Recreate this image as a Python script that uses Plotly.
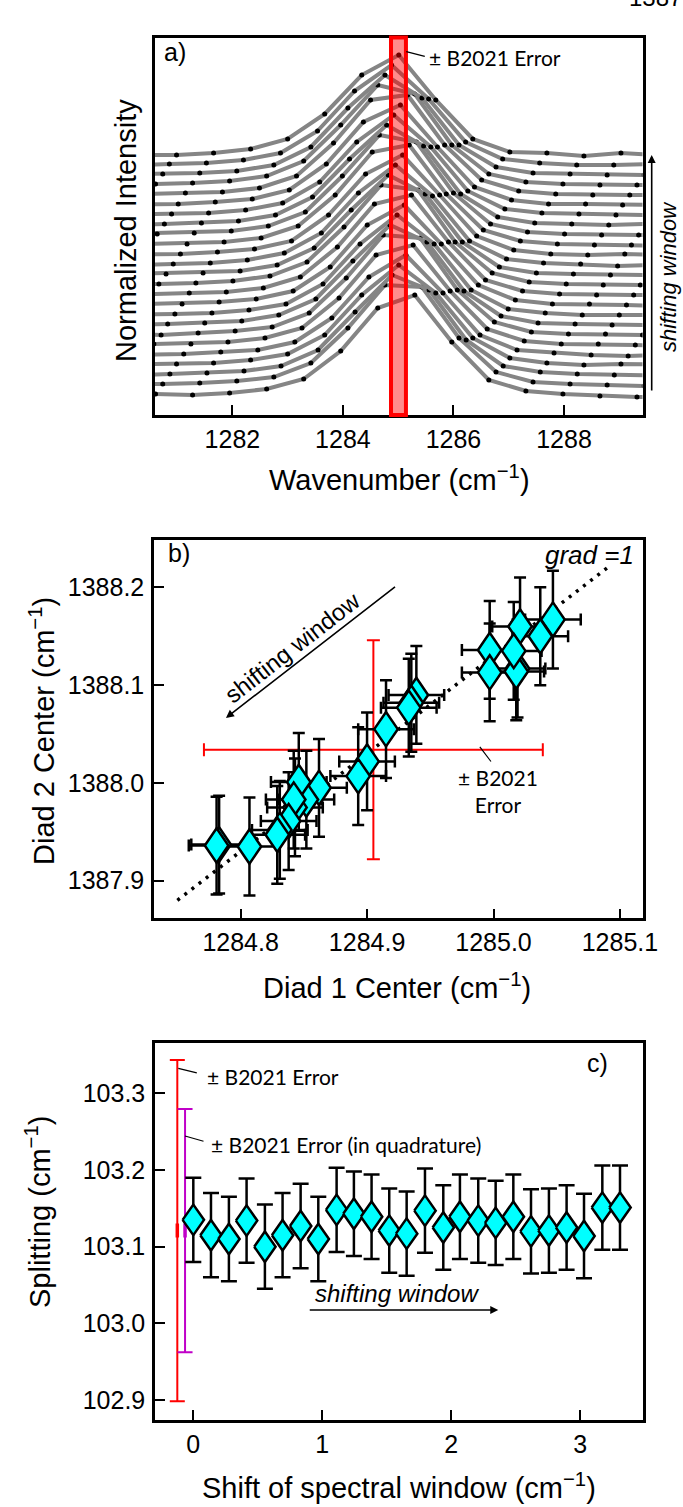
import plotly.graph_objects as go

W, H = 683, 1507
FONT = "Liberation Sans, Arial, sans-serif"
LABEL_FONT = "Lato, Carlito, sans-serif"

# ---------------- a) stacked, normalized spectra of the 1285 cm-1 diad ----------------
SPECTRUM_STEP = 0.67          # cm-1 between detector channels
OFFSET_STEP = 0.1             # vertical offset between successive windows
# first channel position of each window (bottom = unshifted, top = largest shift)
SPECTRUM_X0 = [1279.94, 1279.40, 1279.53, 1279.65, 1279.78, 1279.91, 1279.37, 1279.49,
               1279.62, 1279.75, 1279.88, 1279.33, 1279.46, 1279.59, 1279.72, 1279.84,
               1279.30, 1279.43, 1279.56, 1279.68, 1279.81, 1279.27, 1279.40, 1279.52,
               1279.65]
SPECTRA = [
    [0.00, 0.01, 0.00, 0.02, 0.06, 0.16, 0.44, 0.87, 1.00, 0.53, 0.15, 0.04, 0.01, -0.01, -0.02, -0.02, -0.02],
    [0.00, 0.00, 0.01, 0.02, 0.04, 0.08, 0.22, 0.57, 1.00, 0.98, 0.47, 0.13, 0.03, 0.01, 0.00, -0.01, 0.00],
    [0.01, 0.00, 0.01, 0.02, 0.04, 0.09, 0.25, 0.63, 1.00, 0.85, 0.35, 0.09, 0.03, 0.01, 0.00, 0.00, -0.01],
    [0.00, 0.01, 0.01, 0.02, 0.05, 0.11, 0.30, 0.70, 1.00, 0.72, 0.27, 0.07, 0.02, 0.00, 0.01, 0.00, 0.00],
    [0.00, 0.00, 0.01, 0.03, 0.05, 0.13, 0.37, 0.78, 1.00, 0.62, 0.20, 0.05, 0.02, 0.00, -0.01, 0.00, 0.01],
    [0.00, 0.01, 0.01, 0.03, 0.07, 0.17, 0.47, 0.90, 1.00, 0.54, 0.16, 0.04, 0.01, 0.01, 0.00, -0.01, 0.00],
    [0.00, 0.01, 0.00, 0.02, 0.04, 0.08, 0.22, 0.57, 1.00, 0.97, 0.45, 0.13, 0.03, 0.01, 0.01, 0.00, -0.01],
    [0.01, 0.00, 0.01, 0.02, 0.04, 0.10, 0.26, 0.64, 1.00, 0.83, 0.34, 0.09, 0.02, 0.01, 0.00, 0.00, 0.00],
    [0.00, 0.00, 0.01, 0.02, 0.05, 0.11, 0.31, 0.71, 1.00, 0.71, 0.25, 0.06, 0.02, 0.00, 0.00, 0.01, 0.00],
    [0.00, 0.01, 0.01, 0.03, 0.06, 0.14, 0.38, 0.80, 1.00, 0.61, 0.20, 0.05, 0.01, 0.01, 0.00, -0.01, 0.00],
    [0.00, 0.01, 0.02, 0.03, 0.07, 0.18, 0.48, 0.91, 1.00, 0.53, 0.15, 0.04, 0.01, 0.00, 0.00, 0.00, -0.01],
    [0.00, 0.00, 0.01, 0.02, 0.04, 0.09, 0.23, 0.58, 1.00, 0.95, 0.43, 0.12, 0.03, 0.01, 0.00, 0.00, 0.01],
    [0.00, 0.01, 0.01, 0.02, 0.04, 0.10, 0.27, 0.65, 1.00, 0.81, 0.33, 0.08, 0.02, 0.01, 0.00, 0.00, 0.00],
    [0.01, 0.00, 0.01, 0.02, 0.05, 0.12, 0.32, 0.72, 1.00, 0.69, 0.24, 0.06, 0.02, 0.01, -0.01, 0.00, 0.00],
    [0.00, 0.00, 0.01, 0.03, 0.06, 0.14, 0.40, 0.81, 1.00, 0.60, 0.19, 0.05, 0.01, 0.00, 0.01, 0.00, 0.00],
    [0.00, 0.01, 0.01, 0.03, 0.07, 0.19, 0.50, 0.93, 1.00, 0.51, 0.15, 0.04, 0.01, 0.00, 0.00, -0.01, 0.00],
    [0.00, 0.01, 0.01, 0.02, 0.04, 0.09, 0.23, 0.59, 1.00, 0.93, 0.42, 0.11, 0.03, 0.01, 0.00, 0.00, 0.00],
    [0.01, 0.00, 0.01, 0.02, 0.04, 0.10, 0.28, 0.66, 1.00, 0.79, 0.31, 0.08, 0.02, 0.01, 0.00, 0.01, 0.00],
    [0.00, 0.01, 0.01, 0.02, 0.05, 0.12, 0.33, 0.73, 1.00, 0.68, 0.24, 0.06, 0.02, 0.01, 0.00, 0.00, -0.01],
    [0.00, 0.00, 0.01, 0.03, 0.06, 0.15, 0.41, 0.83, 1.00, 0.58, 0.18, 0.05, 0.01, 0.01, 0.00, 0.00, 0.01],
    [0.00, 0.01, 0.02, 0.03, 0.07, 0.19, 0.52, 0.95, 1.00, 0.50, 0.15, 0.04, 0.01, 0.00, 0.00, 0.00, 0.00],
    [0.00, 0.00, 0.01, 0.02, 0.04, 0.09, 0.24, 0.60, 1.00, 0.91, 0.40, 0.11, 0.03, 0.01, 0.00, 0.00, 0.00],
    [0.00, 0.01, 0.01, 0.02, 0.04, 0.10, 0.28, 0.67, 1.00, 0.77, 0.30, 0.08, 0.02, 0.01, 0.00, 0.00, 0.00],
    [0.01, 0.00, 0.01, 0.02, 0.05, 0.12, 0.34, 0.74, 1.00, 0.66, 0.23, 0.06, 0.02, 0.00, 0.00, 0.01, 0.00],
    [0.00, 0.00, 0.00, 0.02, 0.06, 0.16, 0.41, 0.80, 1.00, 0.55, 0.16, 0.03, 0.02, -0.01, 0.02, 0.00, 0.00],
]
B2021_BAND = [1284.87, 1285.14]     # +/- B2021 error on diad 1 position
A_TICKS = [1282, 1284, 1286, 1288]

# ---------------- b) diad 1 vs diad 2 fitted centres ----------------
DIAD1 = [1285.047, 1285.037, 1285.021, 1285.019, 1285.018, 1285.016, 1284.997, 1284.997,
         1284.939, 1284.935, 1284.933, 1284.915, 1284.900, 1284.893, 1284.862, 1284.852,
         1284.846, 1284.843, 1284.842, 1284.838, 1284.831, 1284.829, 1284.807, 1284.783,
         1284.781]
DIAD2 = [1388.167, 1388.150, 1388.160, 1388.117, 1388.114, 1388.135, 1388.136, 1388.113,
         1388.090, 1388.082, 1388.077, 1388.055, 1388.022, 1388.007, 1387.995, 1387.983,
         1388.001, 1387.975, 1387.983, 1387.961, 1387.952, 1387.947, 1387.935, 1387.937,
         1387.936]
DIAD1_ERR = 0.022
DIAD2_ERR = 0.05
B2021_D1, B2021_D1_ERR = 1284.905, 0.134
B2021_D2, B2021_D2_ERR = 1388.034, 0.112
GRAD = 1.0
GRAD_INTERCEPT = 103.13
GRAD_X = [1284.75, 1285.093]
B_XTICKS = [1284.8, 1284.9, 1285.0, 1285.1]
B_YTICKS = [1387.9, 1388.0, 1388.1, 1388.2]

# ---------------- c) splitting vs window shift ----------------
SHIFT = [0.000, 0.137, 0.276, 0.413, 0.555, 0.692, 0.832, 0.969, 1.111, 1.245, 1.382, 1.519,
         1.654, 1.796, 1.938, 2.067, 2.209, 2.344, 2.481, 2.618, 2.757, 2.894, 3.029, 3.171,
         3.308]
SPLIT = [103.135, 103.115, 103.110, 103.134, 103.100, 103.115, 103.127, 103.110, 103.148,
         103.143, 103.139, 103.121, 103.117, 103.147, 103.125, 103.139, 103.134, 103.131,
         103.139, 103.120, 103.121, 103.125, 103.114, 103.151, 103.151]
SPLIT_ERR = 0.055
B2021_SPLIT = 103.121
B2021_SPLIT_ERR = 0.2225        # straight sum
B2021_SPLIT_QERR = 0.1585       # in quadrature
B2021_SPLIT_X = -0.124
B2021_SPLIT_QX = -0.064
C_XTICKS = [0, 1, 2, 3]
C_YTICKS = [102.9, 103.0, 103.1, 103.2, 103.3]

# diamond marker half-extents (in axis units) for panels b and c
B_DIAMOND = (0.0093, 0.0176)
C_DIAMOND = (0.083, 0.0199)
CYAN = "#00ffff"


def px(p):
    return p / W


def py(p):
    return 1 - p / H


fig = go.Figure()

# a) spectra
for i, (x0, vals) in enumerate(zip(SPECTRUM_X0, SPECTRA)):
    xs = [x0 + k * SPECTRUM_STEP for k in range(len(vals))]
    ys = [v + i * OFFSET_STEP for v in vals]
    fig.add_trace(go.Scatter(
        x=xs, y=ys, mode="lines+markers", xaxis="x", yaxis="y",
        line=dict(color="#858585", width=4),
        marker=dict(color="black", size=5),
        showlegend=False, hoverinfo="skip"))


def add_diamonds(xs, ys, half, xa, ya):
    """Tall cyan diamonds centred on each data point."""
    dx, dy = half
    for x, y in zip(xs, ys):
        fig.add_trace(go.Scatter(
            x=[x - dx, x, x + dx, x, x - dx], y=[y, y + dy, y, y - dy, y],
            mode="lines", fill="toself", fillcolor=CYAN,
            line=dict(color="black", width=2.5), xaxis=xa, yaxis=ya,
            showlegend=False, hoverinfo="skip"))


# b) slope-1 guide line
fig.add_trace(go.Scatter(
    x=GRAD_X, y=[GRAD * x + GRAD_INTERCEPT for x in GRAD_X], mode="lines",
    xaxis="x2", yaxis="y2", line=dict(color="black", width=3.5, dash="3px,6px"),
    showlegend=False, hoverinfo="skip"))

# b) B2021 error cross
fig.add_trace(go.Scatter(
    x=[B2021_D1], y=[B2021_D2], mode="markers", xaxis="x2", yaxis="y2",
    marker=dict(size=1, color="rgba(0,0,0,0)"),
    error_x=dict(type="data", array=[B2021_D1_ERR], color="#ff0000", thickness=2, width=6.5),
    error_y=dict(type="data", array=[B2021_D2_ERR], color="#ff0000", thickness=2, width=6.5),
    showlegend=False, hoverinfo="skip"))

# b) fitted centres: error bars, then diamonds
fig.add_trace(go.Scatter(
    x=DIAD1, y=DIAD2, mode="markers", xaxis="x2", yaxis="y2",
    marker=dict(size=1, color="rgba(0,0,0,0)"),
    error_x=dict(type="constant", value=DIAD1_ERR, color="black", thickness=2.5, width=6),
    error_y=dict(type="constant", value=DIAD2_ERR, color="black", thickness=2.5, width=6),
    showlegend=False, hoverinfo="skip"))
add_diamonds(DIAD1, DIAD2, B_DIAMOND, "x2", "y2")

# c) B2021 error bars
fig.add_trace(go.Scatter(
    x=[B2021_SPLIT_X], y=[B2021_SPLIT], mode="markers", xaxis="x3", yaxis="y3",
    marker=dict(symbol="line-ns", size=10, line=dict(color="#ff0000", width=3.5)),
    error_y=dict(type="data", array=[B2021_SPLIT_ERR], color="#ff0000", thickness=2, width=7.5),
    showlegend=False, hoverinfo="skip"))
fig.add_trace(go.Scatter(
    x=[B2021_SPLIT_QX], y=[B2021_SPLIT], mode="markers", xaxis="x3", yaxis="y3",
    marker=dict(symbol="line-ns", size=10, line=dict(color="#c000c8", width=3.5)),
    error_y=dict(type="data", array=[B2021_SPLIT_QERR], color="#c000c8", thickness=2, width=7.5),
    showlegend=False, hoverinfo="skip"))

# c) splitting: error bars, then diamonds
fig.add_trace(go.Scatter(
    x=SHIFT, y=SPLIT, mode="markers", xaxis="x3", yaxis="y3",
    marker=dict(size=1, color="rgba(0,0,0,0)"),
    error_y=dict(type="constant", value=SPLIT_ERR, color="black", thickness=2.5, width=8),
    showlegend=False, hoverinfo="skip"))
add_diamonds(SHIFT, SPLIT, C_DIAMOND, "x3", "y3")


def axis(domain, rng, anchor, tickvals=None, fmt=None, labels=True, ticks="inside", standoff=0):
    d = dict(domain=domain, range=rng, anchor=anchor, showline=True, linecolor="black",
             linewidth=2.5, mirror=True, showgrid=False, zeroline=False, automargin=False,
             ticks=ticks, ticklen=10, tickwidth=2, tickcolor="black",
             showticklabels=labels, ticklabelstandoff=standoff,
             tickfont=dict(family=FONT, size=25, color="black"))
    if tickvals is not None:
        d["tickvals"] = tickvals
    if fmt:
        d["tickformat"] = fmt
    return d


fig.update_layout(
    template="none",
    width=W, height=H, autosize=False,
    margin=dict(l=0, r=0, t=0, b=0, pad=0, autoexpand=False),
    paper_bgcolor="white", plot_bgcolor="white", showlegend=False,
    xaxis=axis([px(155), px(642.5)], [1280.6, 1289.42], "y", A_TICKS, standoff=0),
    yaxis=axis([py(415), py(37.5)], [-0.2, 3.575], "x", labels=False, ticks=""),
    xaxis2=axis([px(154), px(642.7)], [1284.7315, 1285.118], "y2", B_XTICKS, ".1f", standoff=0),
    yaxis2=axis([py(918.3), py(540)], [1387.8616, 1388.2484], "x2", B_YTICKS, ".1f", standoff=2),
    xaxis3=axis([px(155), px(642.7)], [-0.297, 3.484], "y3", C_XTICKS, "d", standoff=0),
    yaxis3=axis([py(1420), py(1042.7)], [102.874, 103.366], "x3", C_YTICKS, ".1f", standoff=2),
)

# B2021 band on the spectra
fig.add_shape(type="rect", xref="x", yref="y domain", x0=B2021_BAND[0], x1=B2021_BAND[1],
              y0=0, y1=1, fillcolor="rgba(255,0,0,0.45)", line=dict(color="#ff0000", width=4),
              layer="above")

ann = []


def text(x, y, s, xref="paper", yref="paper", size=25, family=FONT, xanchor="center",
         yanchor="middle", angle=0, italic=False, align="center"):
    if italic:
        s = "<i>" + s + "</i>"
    ann.append(dict(x=x, y=y, xref=xref, yref=yref, text=s, showarrow=False,
                    font=dict(family=family, size=size, color="black"),
                    xanchor=xanchor, yanchor=yanchor, textangle=angle, align=align))


def line(x, y, ax, ay, xref, yref, head=0, width=1.2):
    ann.append(dict(x=x, y=y, ax=ax, ay=ay, xref=xref, yref=yref, axref=xref, ayref=yref,
                    text="", showarrow=True, arrowhead=head, arrowsize=1,
                    arrowwidth=width, arrowcolor="black"))


# panel a labels
text(px(162), py(52), "a)", xanchor="left", size=25)
line(1285.146, 3.433, 1285.508, 3.383, "x", "y")
text(1285.52, 3.37, "± B2021 Error", "x", "y", size=21, family=LABEL_FONT, xanchor="left")
ann.append(dict(x=px(651.7), y=py(155), xref="paper", yref="paper", ax=0, ay=237,
                text="", showarrow=True, arrowhead=2, arrowsize=1, arrowwidth=1.6,
                arrowcolor="black"))
text(px(668), py(277), "shifting window", size=22, angle=-90, italic=True)
text(px(655), py(-3), "1387", size=24)
text(px(399), py(478), "Wavenumber (cm<sup>−1</sup>)", size=29)
text(px(126), py(231), "Normalized Intensity", size=29, angle=-90)

# panel b labels
text(px(166), py(553), "b)", xanchor="left", size=25)
text(px(636), py(555), "grad =1", xanchor="right", size=26, italic=True)
line(1284.7884, 1388.0665, 1284.9233, 1388.2017, "x2", "y2", head=2, width=1.6)
text(1284.841, 1388.138, "shifting window", "x2", "y2", size=24, angle=-37.8)
line(1284.9892, 1388.0368, 1284.9989, 1388.0204, "x2", "y2")
text(1285.0034, 1387.9916, "± B2021<br>Error", "x2", "y2", size=21, family=LABEL_FONT)
text(px(397), py(986), "Diad 1 Center (cm<sup>−1</sup>)", size=29)
text(px(42), py(731), "Diad 2 Center (cm<sup>−1</sup>)", size=29, angle=-90)

# panel c labels
text(px(597), py(1063), "c)", size=25)
line(-0.1163, 103.3326, 0.0388, 103.3261, "x3", "y3")
text(0.0907, 103.3216, "± B2021 Error", "x3", "y3", size=21, family=LABEL_FONT, xanchor="left")
line(-0.0643, 103.2443, 0.0907, 103.2369, "x3", "y3")
text(0.124, 103.2339, "± B2021 Error (in quadrature)", "x3", "y3", size=21,
     family=LABEL_FONT, xanchor="left")
line(2.364, 103.0175, 0.891, 103.0175, "x3", "y3", head=2, width=1.6)
text(1.579, 103.0396, "shifting window", "x3", "y3", size=24, italic=True)
text(px(398.5), py(1486), "Shift of spectral window (cm<sup>−1</sup>)", size=29)
text(px(38), py(1212), "Splitting (cm<sup>−1</sup>)", size=29, angle=-90)

fig.update_layout(annotations=ann)
fig.write_html(
    "out.html",
    config={"responsive": False, "displayModeBar": False},
    post_script="document.documentElement.style.overflow='hidden';"
                "document.body.style.margin='0';",
)
